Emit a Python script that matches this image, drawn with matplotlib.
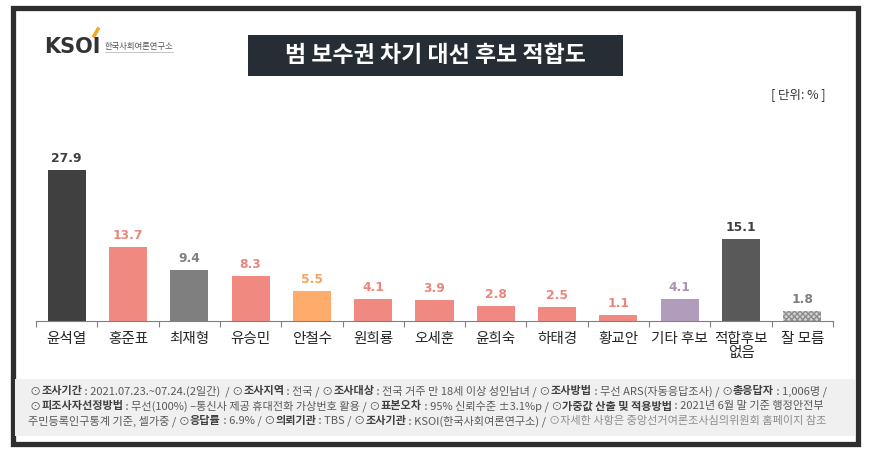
import matplotlib.pyplot as plt
from matplotlib.patches import Rectangle
import numpy as np

plt.rcParams['font.family'] = ['Noto Sans CJK KR', 'DejaVu Sans']

# dati
candidati = ['윤석열', '홍준표', '최재형', '유승민', '안철수', '원희룡', '오세훈',
             '윤희숙', '하태경', '황교안', '기타 후보', '적합후보\n없음', '잘 모름']
valori = [27.9, 13.7, 9.4, 8.3, 5.5, 4.1, 3.9, 2.8, 2.5, 1.1, 4.1, 15.1, 1.8]

SALMONE = '#F08A80'
colori_barre = ['#404040', SALMONE, '#7F7F7F', SALMONE, '#FFAB6B', SALMONE, SALMONE,
                SALMONE, SALMONE, SALMONE, '#B29CBC', '#595959', '#D4D4D4']
colori_etichette = ['#404040', '#E9877D', '#7F7F7F', '#E9877D', '#F5A35F', '#E9877D', '#E9877D',
                    '#E9877D', '#E9877D', '#E9877D', '#A895B4', '#404040', '#7F7F7F']

titolo = '범 보수권 차기 대선 후보 적합도'
unita = '[ 단위: % ]'

# note in fondo: (testo, grassetto, colore)
G, N, L = '#404040', '#595959', '#8C8C8C'
note = [
    [('⊙', False, N), ('조사기간', True, G), (' : 2021.07.23.~07.24.(2일간)  / ⊙', False, N),
     ('조사지역', True, G), (' : 전국 / ⊙', False, N), ('조사대상', True, G),
     (' : 전국 거주 만 18세 이상 성인남녀 / ⊙', False, N), ('조사방법', True, G),
     (' : 무선 ARS(자동응답조사) / ⊙', False, N), ('총응답자', True, G), (' : 1,006명 /', False, N)],
    [('⊙', False, N), ('피조사자선정방법', True, G), (' : 무선(100%) –통신사 제공 휴대전화 가상번호 활용 / ⊙', False, N),
     ('표본오차', True, G), (' : 95% 신뢰수준 ±3.1%p / ⊙', False, N), ('가중값 산출 및 적용방법', True, G),
     (' : 2021년 6월 말 기준 행정안전부', False, N)],
    [('주민등록인구통계 기준, 셀가중 / ⊙', False, N), ('응답률', True, G), (' : 6.9% / ⊙', False, N),
     ('의뢰기관', True, G), (' : TBS / ⊙', False, N), ('조사기관', True, G),
     (' : KSOI(한국사회여론연구소) / ', False, N), ('⊙자세한 사항은 중앙선거여론조사심의위원회 홈페이지 참조', False, L)],
]

W, H = 869, 452
fig = plt.figure(figsize=(W / 100, H / 100), dpi=100)


def fx(px):
    return px / W


def fy(py):
    return 1 - py / H


# cornice esterna
fig.patches.append(Rectangle((fx(12.5), fy(444.5)), fx(845), 436 / H, transform=fig.transFigure,
                             fill=False, edgecolor='#2E2E2E', linewidth=3.8))
# box grigio note
fig.patches.append(Rectangle((fx(15), fy(437)), fx(840), 57 / H, transform=fig.transFigure,
                             facecolor='#F0F0F0', edgecolor='none'))
# box titolo
fig.patches.append(Rectangle((fx(248), fy(77)), fx(375), 41 / H, transform=fig.transFigure,
                             facecolor='#262D35', edgecolor='none'))
fig.text(fx(435), fy(56), titolo, color='white', fontsize=16.5, fontweight='bold',
         ha='center', va='center')
fig.text(fx(826), fy(95), unita, color='#333333', fontsize=9, ha='right', va='center')

# logo
fig.text(fx(44), fy(47), 'KSOI', fontsize=15, fontweight='bold', color='#333333',
         family='DejaVu Sans', ha='left', va='center')
fig.lines.append(plt.Line2D([fx(94), fx(98)], [fy(37), fy(30)], transform=fig.transFigure,
                            color='#F5A623', linewidth=2.5))
fig.text(fx(105), fy(46), '한국사회여론연구소', fontsize=6, color='#555555', ha='left', va='center')
fig.lines.append(plt.Line2D([fx(105), fx(173)], [fy(53), fy(53)], transform=fig.transFigure,
                            color='#BBBBBB', linewidth=0.6))

# grafico
ax = fig.add_axes([fx(36), fy(322), fx(797), 173 / H])
x = np.arange(len(candidati))
barre = ax.bar(x, valori, width=0.62, color=colori_barre)
barre[-1].set_hatch('xxxxxx')
barre[-1].set_edgecolor('#8C8C8C')
barre[-1].set_linewidth(0)

for xi, v, c in zip(x, valori, colori_etichette):
    ax.annotate(f'{v:.1f}', (xi, v), xytext=(0, 4.5), textcoords='offset points',
                ha='center', va='bottom', fontsize=8.8, fontweight='bold', color=c,
                family='DejaVu Sans')

ax.set_xlim(-0.5, len(candidati) - 0.5)
ax.set_ylim(0, 32)
ax.set_xticks(x)
ax.set_xticklabels(candidati, fontsize=10.5, color='#262626', linespacing=1.0)
ax.set_xticks(np.arange(-0.5, len(candidati)), minor=True)
ax.tick_params(axis='x', which='major', length=0, pad=7)
ax.tick_params(axis='x', which='minor', length=4, color='#808080', width=0.8)
ax.set_yticks([])
for s in ['top', 'left', 'right']:
    ax.spines[s].set_visible(False)
ax.spines['bottom'].set_color('#808080')
ax.patch.set_alpha(0)

# note a segmenti
renderer = fig.canvas.get_renderer()
FS_NOTE = 8


def larghezza(testo, bold, size):
    t1 = fig.text(0, 0, testo + '|', fontsize=size, fontweight='bold' if bold else 'normal')
    t2 = fig.text(0, 0, '|', fontsize=size, fontweight='bold' if bold else 'normal')
    w = t1.get_window_extent(renderer).width - t2.get_window_extent(renderer).width
    t1.remove()
    t2.remove()
    return w


righe_y = [391, 406, 421]
righe_x = [30, 30, 28]
for riga, py, px in zip(note, righe_y, righe_x):
    pos = px
    for testo, bold, col in riga:
        fig.text(fx(pos), fy(py), testo, fontsize=FS_NOTE, fontweight='bold' if bold else 'normal',
                 color=col, ha='left', va='center')
        pos += larghezza(testo, bold, FS_NOTE)

fig.savefig('out.png', dpi=100)
